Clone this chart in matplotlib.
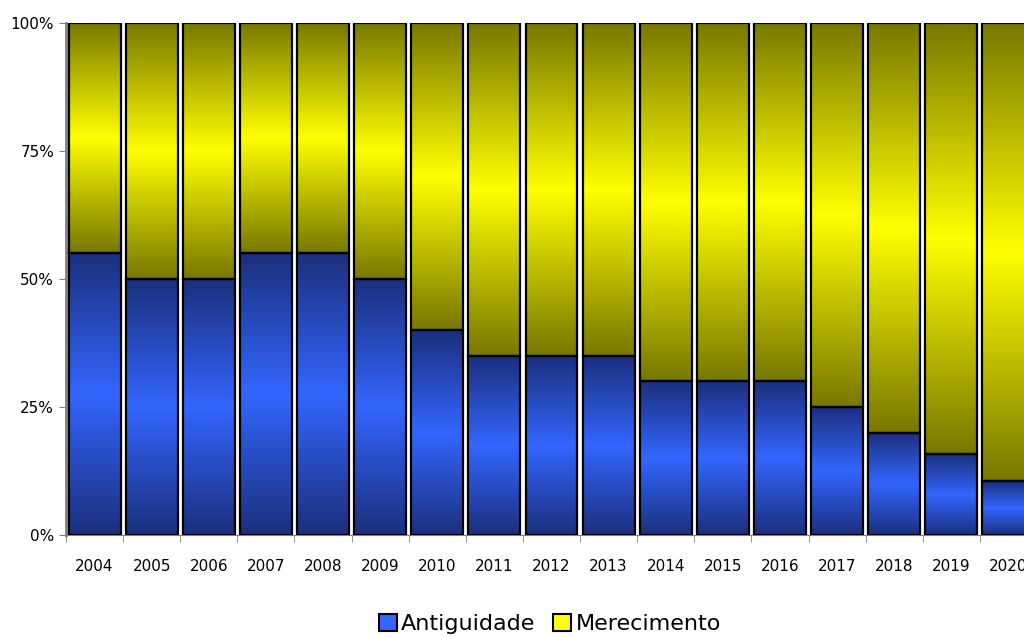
import matplotlib
matplotlib.use('Agg')
import matplotlib.pyplot as plt
import numpy as np
from matplotlib.colors import LinearSegmentedColormap
from matplotlib.patches import Patch

anos = ['2004', '2005', '2006', '2007', '2008', '2009', '2010', '2011', '2012',
        '2013', '2014', '2015', '2016', '2017', '2018', '2019', '2020']
antiguidade = [55, 50, 50, 55, 55, 50, 40, 35, 35, 35, 30, 30, 30, 25, 20, 15.8, 10.5]
merecimento = [100 - a for a in antiguidade]

azul = LinearSegmentedColormap.from_list('azul', ['#1b2f7c', '#3366ff', '#1b2f7c'])
amarelo = LinearSegmentedColormap.from_list('amarelo', ['#787800', '#ffff00', '#787800'])
grad = np.linspace(0, 1, 512).reshape(-1, 1)

fig = plt.figure(figsize=(10.24, 6.37), dpi=100)
ax = fig.add_axes([66 / 1024, 102 / 637, 971 / 1024, 512 / 637])

x = np.arange(len(anos))
b1 = ax.bar(x, antiguidade, width=0.91, color='none', edgecolor='black', linewidth=1.6, zorder=3)
b2 = ax.bar(x, merecimento, width=0.91, bottom=antiguidade, color='none',
            edgecolor='black', linewidth=1.6, zorder=3)

# preenchimento em degradê, recortado em cada barra
for barras, cmap in ((b1, azul), (b2, amarelo)):
    for r in barras:
        x0, y0 = r.get_x(), r.get_y()
        im = ax.imshow(grad, cmap=cmap, aspect='auto', zorder=2, interpolation='bilinear',
                       extent=(x0, x0 + r.get_width(), y0, y0 + r.get_height()))
        im.set_clip_path(r)

ax.set_xlim(-0.5, len(anos) - 0.5)
ax.set_ylim(0, 100)
ax.set_yticks([0, 25, 50, 75, 100])
ax.set_yticklabels(['0%', '25%', '50%', '75%', '100%'], fontsize=11)
ax.set_xticks(x)
ax.set_xticklabels(anos, fontsize=11)
ax.tick_params(axis='x', length=0, pad=17)
ax.set_xticks(np.arange(-0.5, len(anos), 1), minor=True)
ax.tick_params(axis='x', which='minor', length=5, color='#808080')
ax.tick_params(axis='y', length=5, color='#808080')
for s in ['top', 'right']:
    ax.spines[s].set_visible(False)
ax.spines['left'].set_color('#808080')
ax.spines['bottom'].set_color('#808080')
ax.spines['left'].set_linewidth(2)

handles = [Patch(facecolor='#3366ff', edgecolor='black', linewidth=1.5, label='Antiguidade'),
           Patch(facecolor='#ffff00', edgecolor='black', linewidth=1.5, label='Merecimento')]
fig.legend(handles=handles, loc='center', bbox_to_anchor=(0.537, 0.02), ncol=2,
           frameon=False, fontsize=16, handlelength=0.8, handleheight=0.8,
           handletextpad=0.2, columnspacing=0.8)

fig.savefig('out.png', dpi=100)
